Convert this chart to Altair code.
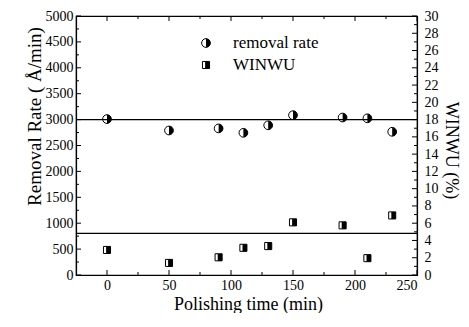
import altair as alt
import pandas as pd

# ---- data ----
time_min = [0, 50, 90, 110, 130, 150, 190, 210, 230]
removal_rate = [3010, 2790, 2830, 2745, 2890, 3085, 3040, 3025, 2765]
winwu = [2.9, 1.4, 2.05, 3.15, 3.35, 6.1, 5.75, 1.95, 6.9]
ref_lines = [3000, 805]          # horizontal reference lines (left-axis units)
legend_labels = ["removal rate", "WINWU"]

x_major = [0, 50, 100, 150, 200, 250]
x_minor = [25, 75, 125, 175, 225]
left_major = list(range(0, 5001, 500))
left_minor = list(range(250, 5000, 500))
right_major = list(range(0, 31, 2))
right_minor = list(range(1, 30, 2))

W, H = 341, 259
FONT = "Liberation Serif"
CIRCLE_HALF = "M0,-1 A1,1 0 0,1 0,1 Z"
SQUARE_PART = "M-0.25,-1 L1,-1 L1,1 L-0.25,1 Z"

df = pd.DataFrame({"t": time_min, "rr": removal_rate, "wu": winwu})
df_ref = pd.DataFrame({"v": ref_lines})

x_scale = alt.Scale(domain=[-25, 250], nice=False, zero=False)
x_axis = alt.Axis(values=x_major, format="d", title="Polishing time (min)", titleX=172, titleY=29,
                  titleBaseline="middle", titleFontSize=18, labelPadding=3, ticks=False,
                  labelOverlap=False)
xe = alt.X("t:Q", scale=x_scale, axis=x_axis)

left_scale = alt.Scale(domain=[0, 5000], nice=False)
right_scale = alt.Scale(domain=[0, 30], nice=False)
left_axis = alt.Axis(values=left_major, format="d", title="Removal Rate ( Å/min)", titleAngle=270,
                     titleX=-42, titleY=100, titleBaseline="middle", titleAlign="center",
                     labelPadding=3, ticks=False, labelOverlap=False)
right_axis = alt.Axis(orient="right", values=right_major, format="d", title="WINWU (%)", titleAngle=90,
                      titleX=33, titleY=134, titleBaseline="middle", titleAlign="center",
                      titleFontSize=18, labelPadding=7, ticks=False, labelOverlap=False)

base = alt.Chart(df)

# left-scale layers
rr_white = base.mark_point(shape="circle", filled=True, fill="white", stroke="black",
                           strokeWidth=1, size=76, opacity=1).encode(
    x=xe, y=alt.Y("rr:Q", scale=left_scale, axis=left_axis))
rr_black = base.mark_point(shape=CIRCLE_HALF, filled=True, fill="black", strokeWidth=0,
                           size=76, opacity=1).encode(
    x=xe, y=alt.Y("rr:Q", scale=left_scale, axis=left_axis))
refs = alt.Chart(df_ref).mark_rule(color="black", strokeWidth=1.2).encode(
    y=alt.Y("v:Q", scale=left_scale, axis=left_axis))

def xticks(vals, length):
    d = pd.DataFrame({"t": vals})
    bot = alt.Chart(d).mark_rule(color="black", strokeWidth=1).encode(
        x=alt.X("t:Q", scale=x_scale, axis=x_axis), y=alt.value(H), y2=alt.value(H - length))
    top = alt.Chart(d).mark_rule(color="black", strokeWidth=1).encode(
        x=alt.X("t:Q", scale=x_scale, axis=x_axis), y=alt.value(0), y2=alt.value(length))
    return bot + top

def yticks(vals, length, scale, axis, side):
    d = pd.DataFrame({"v": vals})
    if side == "left":
        xx, xx2 = 0, length
    else:
        xx, xx2 = W - length, W
    return alt.Chart(d).mark_rule(color="black", strokeWidth=1).encode(
        y=alt.Y("v:Q", scale=scale, axis=axis), x=alt.value(xx), x2=alt.value(xx2))

# legend
leg = pd.DataFrame({"label": legend_labels})
leg1 = alt.Chart(leg.iloc[[0]])
leg2 = alt.Chart(leg.iloc[[1]])
LX, LY1, LY2, TX = 130, 27, 49, 157
legend_layers = [
    leg1.mark_point(shape="circle", filled=True, fill="white", stroke="black", strokeWidth=1,
                    size=76, opacity=1).encode(x=alt.value(LX), y=alt.value(LY1)),
    leg1.mark_point(shape=CIRCLE_HALF, filled=True, fill="black", strokeWidth=0, size=76,
                    opacity=1).encode(x=alt.value(LX), y=alt.value(LY1)),
    leg1.mark_text(align="left", baseline="middle", font=FONT, fontSize=17, color="black").encode(
        x=alt.value(TX), y=alt.value(LY1), text="label:N"),
    leg2.mark_point(shape="square", filled=True, fill="white", stroke="black", strokeWidth=1,
                    size=50, opacity=1).encode(x=alt.value(LX), y=alt.value(LY2)),
    leg2.mark_point(shape=SQUARE_PART, filled=True, fill="black", strokeWidth=0, size=50,
                    opacity=1).encode(x=alt.value(LX), y=alt.value(LY2)),
    leg2.mark_text(align="left", baseline="middle", font=FONT, fontSize=17, color="black").encode(
        x=alt.value(TX), y=alt.value(LY2), text="label:N"),
]

left_layer = alt.layer(
    rr_white, rr_black, refs,
    xticks(x_major, 5), xticks(x_minor, 3),
    yticks(left_major, 5, left_scale, left_axis, "left"),
    yticks(left_minor, 3, left_scale, left_axis, "left"),
    *legend_layers,
)

wu_white = base.mark_point(shape="square", filled=True, fill="white", stroke="black",
                           strokeWidth=1, size=50, opacity=1).encode(
    x=xe, y=alt.Y("wu:Q", scale=right_scale, axis=right_axis))
wu_black = base.mark_point(shape=SQUARE_PART, filled=True, fill="black", strokeWidth=0,
                           size=50, opacity=1).encode(
    x=xe, y=alt.Y("wu:Q", scale=right_scale, axis=right_axis))

right_layer = alt.layer(
    wu_white, wu_black,
    yticks(right_major, 5, right_scale, right_axis, "right"),
    yticks(right_minor, 3, right_scale, right_axis, "right"),
)

chart = alt.layer(left_layer, right_layer).resolve_scale(y="independent").properties(
    width=W, height=H,
    autosize=alt.AutoSizeParams(type="none"),
    padding={"left": 68, "top": 8, "right": 44, "bottom": 38},
).configure(background="white").configure_view(
    stroke="black", strokeWidth=1.2
).configure_axis(
    labelFont=FONT, labelFontSize=14, labelColor="black",
    titleFont=FONT, titleFontSize=19, titleFontWeight="normal", titleColor="black",
    domainColor="black", domainWidth=1.2, grid=False,
)

chart.save("out.html", embed_options={"renderer": "svg", "actions": False})
